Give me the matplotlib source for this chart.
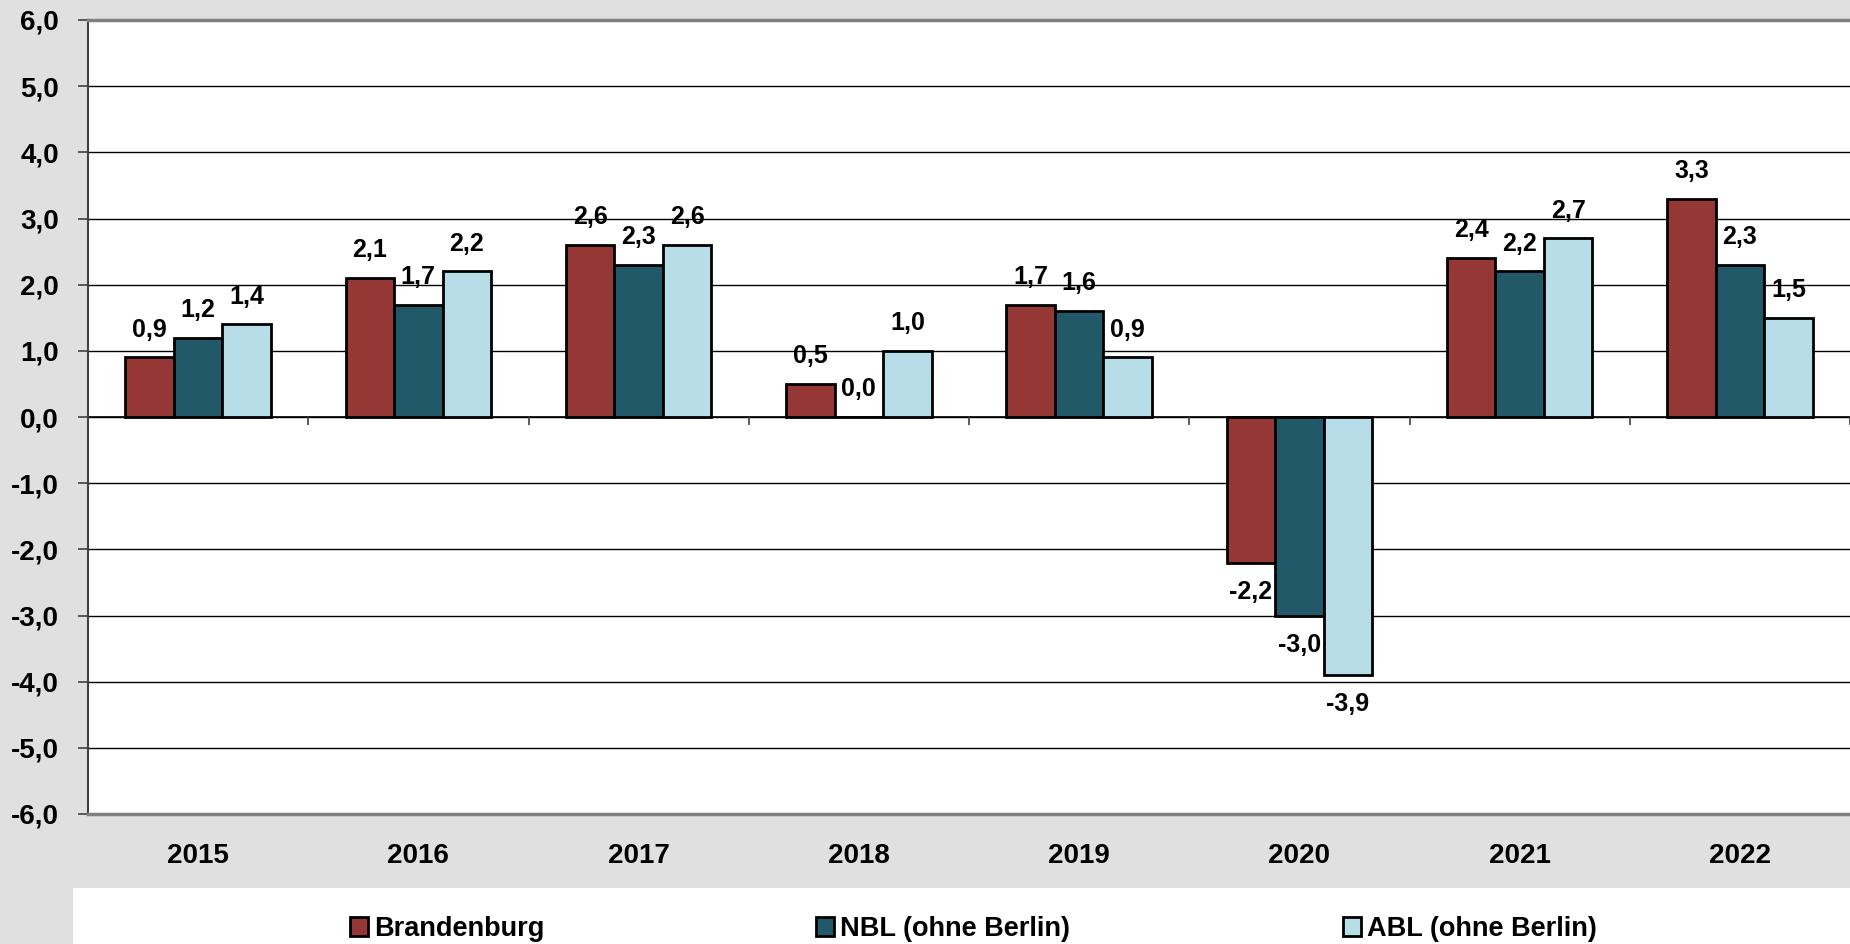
import numpy as np
import matplotlib.pyplot as plt
from matplotlib.patches import Rectangle, Patch

years = ['2015', '2016', '2017', '2018', '2019', '2020', '2021', '2022']
brandenburg = [0.9, 2.1, 2.6, 0.5, 1.7, -2.2, 2.4, 3.3]
nbl = [1.2, 1.7, 2.3, 0.0, 1.6, -3.0, 2.2, 2.3]
abl = [1.4, 2.2, 2.6, 1.0, 0.9, -3.9, 2.7, 1.5]

series = [('Brandenburg', brandenburg, '#953735'),
          ('NBL (ohne Berlin)', nbl, '#215968'),
          ('ABL (ohne Berlin)', abl, '#B7DEE8')]

plt.rcParams['font.family'] = ['Liberation Sans', 'DejaVu Sans']
plt.rcParams['font.weight'] = 'bold'

bg = '#E0E0E0'
fig = plt.figure(figsize=(18.5, 9.44), dpi=100, facecolor=bg)
ax = fig.add_axes([88 / 1850, 1 - 814 / 944, 1 - 88 / 1850, (814 - 20) / 944])
ax.set_facecolor('white')

# white strip behind the legend
fig.patches.append(Rectangle((73 / 1850, 0), 1, 56 / 944, transform=fig.transFigure,
                             facecolor='white', edgecolor='none', zorder=0))

x = np.arange(len(years))
width = 0.22
offsets = [-width, 0, width]

for (name, vals, col), off in zip(series, offsets):
    bars = ax.bar(x + off, vals, width=width, color=col, edgecolor='black',
                  linewidth=2, zorder=3, label=name)
    for b, v in zip(bars, vals):
        dy = 20 if v >= 0 else -21
        ax.annotate(f'{v:.1f}'.replace('.', ','), (b.get_x() + b.get_width() / 2, v),
                    xytext=(0, dy), textcoords='offset points', ha='center', va='center',
                    fontsize=18, fontweight='bold', zorder=4)

ax.set_xlim(-0.5, len(years) - 0.5)
ax.set_ylim(-6, 6)
yt = np.arange(-6, 7, 1)
ax.set_yticks(yt)
ax.set_yticklabels([f'{v:.1f}'.replace('.', ',') for v in yt], fontsize=20, fontweight='bold')
ax.tick_params(axis='y', length=7, width=1.2, color='#404040', pad=14)
ax.set_xticks(x)
ax.set_xticklabels(years, fontsize=20, fontweight='bold')
ax.tick_params(axis='x', length=0, pad=21)

for yv in yt[1:-1]:
    ax.axhline(yv, color='black', linewidth=1, zorder=1)
ax.axhline(0, color='black', linewidth=1.2, zorder=2)
# category separator ticks on the zero line
ax.vlines(np.arange(len(years) + 1) - 0.5, -0.12, 0, color='#404040', linewidth=1.2, zorder=2)

ax.spines['right'].set_visible(False)
ax.spines['top'].set_color('#808080')
ax.spines['top'].set_linewidth(2.5)
ax.spines['bottom'].set_color('#808080')
ax.spines['bottom'].set_linewidth(2.5)
ax.spines['left'].set_color('#404040')
ax.spines['left'].set_linewidth(1.5)

leg_x = [350 / 1850, 816 / 1850, 1343 / 1850]
for (name, vals, col), lx in zip(series, leg_x):
    h = Patch(facecolor=col, edgecolor='black', linewidth=2)
    fig.legend([h], [name], loc='center left', bbox_to_anchor=(lx, 15 / 944),
               frameon=False, handlelength=0.65, handleheight=0.65,
               handletextpad=0.25, borderpad=0, borderaxespad=0,
               prop={'weight': 'bold', 'size': 19.5})

fig.savefig('out.png', dpi=100, facecolor=bg)
